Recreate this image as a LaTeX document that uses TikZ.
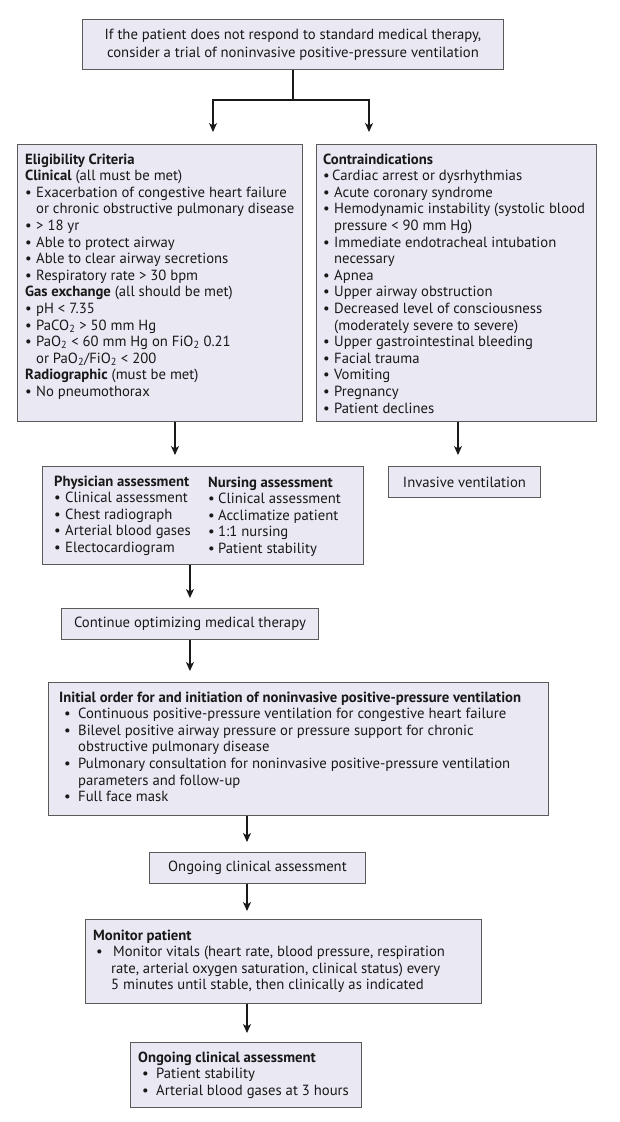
\documentclass[tikz,border=0pt]{standalone}
\usepackage{fontspec}
\setmainfont{PT Sans}
\usetikzlibrary{arrows.meta}
\definecolor{boxfill}{RGB}{233,232,243}
\definecolor{boxline}{RGB}{90,90,90}
\definecolor{txt}{RGB}{25,25,25}
\newcommand{\bitem}[2]{\makebox[#1][l]{\textbullet}#2}
\newcommand{\citem}[2]{\hspace*{#1}#2}
\begin{document}
\begin{tikzpicture}[x=1pt,y=-1pt,
  box/.style={draw=boxline, fill=boxfill, line width=0.9pt, inner sep=0pt, anchor=north west, text=txt, font=\fontsize{14.7}{16.6}\selectfont},
  txtblock/.style={anchor=base west, inner sep=0pt, text=txt, font=\fontsize{14.7}{16.6}\selectfont},
  arr/.style={-{Stealth[length=9pt,width=8pt,inset=2.5pt]}, line width=1.1pt, draw=txt},
  conn/.style={line width=1.1pt, draw=txt}]
\fill[white] (0,0) rectangle (620,1122);
\useasboundingbox (0,0) rectangle (620,1122);

% boxes
\node[box, minimum width=421pt, minimum height=50pt, align=center,
      font=\fontsize{14.7}{18.3}\selectfont] (top) at (82,19)
  {If the patient does not respond to standard medical therapy,\\
   consider a trial of noninvasive positive-pressure ventilation};
\node[box, minimum width=285pt, minimum height=277pt] (elig) at (17,144) {};
\node[box, minimum width=280pt, minimum height=277pt] (contra) at (316,144) {};
\node[box, minimum width=321pt, minimum height=98pt] (phys) at (42,466) {};
\node[box, minimum width=152pt, minimum height=31pt] (inv) at (388,466) {Invasive ventilation};
\node[box, minimum width=257pt, minimum height=31pt] (cont) at (61,608) {Continue optimizing medical therapy};
\node[box, minimum width=500pt, minimum height=133pt] (init) at (48,682) {};
\node[box, minimum width=216pt, minimum height=31pt] (ong) at (149,852) {Ongoing clinical assessment};
\node[box, minimum width=396pt, minimum height=84pt] (mon) at (85,919) {};
\node[box, minimum width=231pt, minimum height=65pt] (fin) at (130,1042) {};

% texts
\node[txtblock] (eligtxt) at (25,164) {\begin{tabular}[t]{@{}l@{}}
\textbf{Eligibility Criteria}\\
\textbf{Clinical} (all must be met)\\
\bitem{11pt}{Exacerbation of congestive heart failure}\\
\citem{11pt}{or chronic obstructive pulmonary disease}\\
\bitem{11pt}{> 18 yr}\\
\bitem{11pt}{Able to protect airway}\\
\bitem{11pt}{Able to clear airway secretions}\\
\bitem{11pt}{Respiratory rate > 30 bpm}\\
\textbf{Gas exchange} (all should be met)\\
\bitem{11pt}{pH < 7.35}\\
\bitem{11pt}{PaCO\textsubscript{2} > 50 mm Hg}\\
\bitem{11pt}{PaO\textsubscript{2} < 60 mm Hg on FiO\textsubscript{2} 0.21}\\
\citem{11pt}{or PaO\textsubscript{2}/FiO\textsubscript{2} < 200}\\
\textbf{Radiographic} (must be met)\\
\bitem{11pt}{No pneumothorax}
\end{tabular}};

\node[txtblock] (contratxt) at (323,164) {\begin{tabular}[t]{@{}l@{}}
\textbf{Contraindications}\\
\bitem{9pt}{Cardiac arrest or dysrhythmias}\\
\bitem{11pt}{Acute coronary syndrome}\\
\bitem{11pt}{Hemodynamic instability (systolic blood}\\
\citem{11pt}{pressure < 90 mm Hg)}\\
\bitem{11pt}{Immediate endotracheal intubation}\\
\citem{11pt}{necessary}\\
\bitem{11pt}{Apnea}\\
\bitem{11pt}{Upper airway obstruction}\\
\bitem{11pt}{Decreased level of consciousness}\\
\citem{11pt}{(moderately severe to severe)}\\
\bitem{11pt}{Upper gastrointestinal bleeding}\\
\bitem{11pt}{Facial trauma}\\
\bitem{11pt}{Vomiting}\\
\bitem{11pt}{Pregnancy}\\
\bitem{11pt}{Patient declines}
\end{tabular}};

\node[txtblock] (phystxt) at (54,486) {\begin{tabular}[t]{@{}l@{}}
\textbf{Physician assessment}\\
\bitem{11pt}{Clinical assessment}\\
\bitem{11pt}{Chest radiograph}\\
\bitem{11pt}{Arterial blood gases}\\
\bitem{11pt}{Electocardiogram}
\end{tabular}};

\node[txtblock] (nurstxt) at (208,487) {\begin{tabular}[t]{@{}l@{}}
\textbf{Nursing assessment}\\
\bitem{10pt}{Clinical assessment}\\
\bitem{10pt}{Acclimatize patient}\\
\bitem{10pt}{1:1 nursing}\\
\bitem{10pt}{Patient stability}
\end{tabular}};

\node[txtblock] (inittxt) at (59,702) {\begin{tabular}[t]{@{}l@{}}
\textbf{Initial order for and initiation of noninvasive positive-pressure ventilation}\\
\hspace*{5pt}\bitem{14pt}{Continuous positive-pressure ventilation for congestive heart failure}\\
\hspace*{5pt}\bitem{14pt}{Bilevel positive airway pressure or pressure support for chronic}\\
\citem{19pt}{obstructive pulmonary disease}\\
\hspace*{5pt}\bitem{14pt}{Pulmonary consultation for noninvasive positive-pressure ventilation}\\
\citem{19pt}{parameters and follow-up}\\
\hspace*{5pt}\bitem{14pt}{Full face mask}
\end{tabular}};

\node[txtblock] (montxt) at (93,940) {\begin{tabular}[t]{@{}l@{}}
\textbf{Monitor patient}\\
\hspace*{3pt}\bitem{17pt}{Monitor vitals (heart rate, blood pressure, respiration}\\
\citem{18pt}{rate, arterial oxygen saturation, clinical status) every}\\
\citem{18pt}{5 minutes until stable, then clinically as indicated}
\end{tabular}};

\node[txtblock] (fintxt) at (138,1062) {\begin{tabular}[t]{@{}l@{}}
\textbf{Ongoing clinical assessment}\\
\hspace*{4pt}\bitem{14pt}{Patient stability}\\
\hspace*{4pt}\bitem{14pt}{Arterial blood gases at 3 hours}
\end{tabular}};

% connectors
\coordinate (fork) at (top.south |- 0,100);
\coordinate (eligin) at (213,144);
\coordinate (contrain) at (369,144);
\draw[conn] (top.south) -- (fork);
\draw[arr, shorten >=12pt] (fork) -| (eligin);
\draw[arr, shorten >=12pt] (fork) -| (contrain);
\draw[arr, shorten >=11pt] (elig.south -| 175,0) -- (phys.north -| 175,0);
\draw[arr, shorten >=11pt] (contra.south -| 458,0) -- (inv.north -| 458,0);
\draw[arr, shorten >=10pt] (phys.south -| cont.north) -- (cont.north);
\draw[arr, shorten >=11pt] (cont.south) -- (cont.south |- init.north);
\draw[arr, shorten >=10pt] (init.south -| 247,0) -- (ong.north -| 247,0);
\draw[arr, shorten >=8pt] (ong.south -| 247,0) -- (mon.north -| 247,0);
\draw[arr, shorten >=9pt] (mon.south -| 247,0) -- (fin.north -| 247,0);
\end{tikzpicture}
\end{document}
